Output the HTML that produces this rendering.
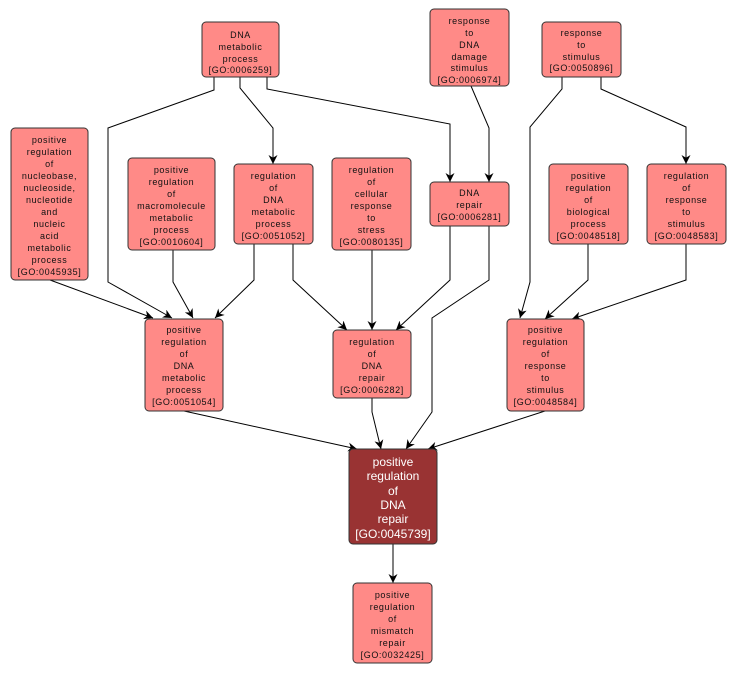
<!DOCTYPE html>
<html><head><meta charset="utf-8"><style>
html,body{margin:0;padding:0;background:#fff;}
svg{display:block;}
.n rect{fill:#ff8a87;stroke:#333;stroke-width:1;}
.n text{font-family:"Liberation Sans",sans-serif;font-size:9px;fill:#111;text-anchor:middle;letter-spacing:0.6px;}
.m rect{fill:#993333;stroke:#333;stroke-width:1;}
.m text{font-family:"Liberation Sans",sans-serif;font-size:12px;fill:#fff;text-anchor:middle;}
path.e{fill:none;stroke:#000;stroke-width:1;}
</style></head><body>
<svg width="738" height="673" viewBox="0 0 738 673" xmlns="http://www.w3.org/2000/svg">
<defs>
<marker id="a" viewBox="0 0 10 10" refX="10" refY="5" markerWidth="9" markerHeight="9" orient="auto" markerUnits="userSpaceOnUse">
<path d="M0,0 L10,5 L0,10 L3,5 Z" fill="#000"/>
</marker>
</defs>
<!-- edges -->
<path class="e" marker-end="url(#a)" d="M214,77 L214,90 L108,128 L108,282 L172,318"/>
<path class="e" marker-end="url(#a)" d="M240,77 L240,88 L273,128 L273,164"/>
<path class="e" marker-end="url(#a)" d="M267,77 L267,89 L450,124 L450,182"/>
<path class="e" marker-end="url(#a)" d="M471,86 L489,128 L489,182"/>
<path class="e" marker-end="url(#a)" d="M562,77 L562,89 L530,127 L530,282 L520,318"/>
<path class="e" marker-end="url(#a)" d="M601,77 L601,89 L686,127 L686,164"/>
<path class="e" marker-end="url(#a)" d="M50,280 L153,318"/>
<path class="e" marker-end="url(#a)" d="M173,250 L173,282 L193,318"/>
<path class="e" marker-end="url(#a)" d="M254,244 L254,280 L215,318"/>
<path class="e" marker-end="url(#a)" d="M293,244 L293,280 L347,330"/>
<path class="e" marker-end="url(#a)" d="M372,250 L372,330"/>
<path class="e" marker-end="url(#a)" d="M450,226 L450,280 L396,330"/>
<path class="e" marker-end="url(#a)" d="M489,226 L489,280 L432,318 L432,412 L406,449"/>
<path class="e" marker-end="url(#a)" d="M588,244 L588,280 L545,319"/>
<path class="e" marker-end="url(#a)" d="M686,244 L686,280 L572,319"/>
<path class="e" marker-end="url(#a)" d="M184,411 L357,449"/>
<path class="e" marker-end="url(#a)" d="M372,398 L372,412 L381,449"/>
<path class="e" marker-end="url(#a)" d="M545,411 L428,449"/>
<path class="e" marker-end="url(#a)" d="M393,544 L393,583"/>
<!-- nodes -->
<g class="n"><rect x="202" y="22" width="77" height="55" rx="4"/>
<text x="240.5" y="38">DNA</text><text x="240.5" y="50">metabolic</text><text x="240.5" y="62">process</text><text x="240.5" y="73">[GO:0006259]</text></g>
<g class="n"><rect x="430" y="9" width="79" height="77" rx="4"/>
<text x="469.5" y="24">response</text><text x="469.5" y="36">to</text><text x="469.5" y="48">DNA</text><text x="469.5" y="60">damage</text><text x="469.5" y="71">stimulus</text><text x="469.5" y="83">[GO:0006974]</text></g>
<g class="n"><rect x="542" y="22" width="79" height="55" rx="4"/>
<text x="581.5" y="36">response</text><text x="581.5" y="48">to</text><text x="581.5" y="60">stimulus</text><text x="581.5" y="71">[GO:0050896]</text></g>
<g class="n"><rect x="11" y="128" width="77" height="152" rx="4"/>
<text x="49.5" y="143">positive</text><text x="49.5" y="155">regulation</text><text x="49.5" y="167">of</text><text x="49.5" y="179">nucleobase,</text><text x="49.5" y="191">nucleoside,</text><text x="49.5" y="203">nucleotide</text><text x="49.5" y="215">and</text><text x="49.5" y="227">nucleic</text><text x="49.5" y="239">acid</text><text x="49.5" y="251">metabolic</text><text x="49.5" y="263">process</text><text x="49.5" y="275">[GO:0045935]</text></g>
<g class="n"><rect x="128" y="158" width="87" height="92" rx="4"/>
<text x="171.5" y="173">positive</text><text x="171.5" y="185">regulation</text><text x="171.5" y="197">of</text><text x="171.5" y="209">macromolecule</text><text x="171.5" y="221">metabolic</text><text x="171.5" y="233">process</text><text x="171.5" y="245">[GO:0010604]</text></g>
<g class="n"><rect x="234" y="164" width="79" height="80" rx="4"/>
<text x="273.5" y="179">regulation</text><text x="273.5" y="191">of</text><text x="273.5" y="203">DNA</text><text x="273.5" y="215">metabolic</text><text x="273.5" y="227">process</text><text x="273.5" y="239">[GO:0051052]</text></g>
<g class="n"><rect x="332" y="158" width="79" height="92" rx="4"/>
<text x="371.5" y="173">regulation</text><text x="371.5" y="185">of</text><text x="371.5" y="197">cellular</text><text x="371.5" y="209">response</text><text x="371.5" y="221">to</text><text x="371.5" y="233">stress</text><text x="371.5" y="245">[GO:0080135]</text></g>
<g class="n"><rect x="430" y="182" width="79" height="44" rx="4"/>
<text x="469.5" y="196">DNA</text><text x="469.5" y="208">repair</text><text x="469.5" y="220">[GO:0006281]</text></g>
<g class="n"><rect x="549" y="164" width="79" height="80" rx="4"/>
<text x="588.5" y="179">positive</text><text x="588.5" y="191">regulation</text><text x="588.5" y="203">of</text><text x="588.5" y="215">biological</text><text x="588.5" y="227">process</text><text x="588.5" y="239">[GO:0048518]</text></g>
<g class="n"><rect x="647" y="164" width="79" height="80" rx="4"/>
<text x="686.5" y="179">regulation</text><text x="686.5" y="191">of</text><text x="686.5" y="203">response</text><text x="686.5" y="215">to</text><text x="686.5" y="227">stimulus</text><text x="686.5" y="239">[GO:0048583]</text></g>
<g class="n"><rect x="145" y="319" width="78" height="92" rx="4"/>
<text x="184" y="333">positive</text><text x="184" y="345">regulation</text><text x="184" y="357">of</text><text x="184" y="369">DNA</text><text x="184" y="381">metabolic</text><text x="184" y="393">process</text><text x="184" y="405">[GO:0051054]</text></g>
<g class="n"><rect x="333" y="330" width="78" height="68" rx="4"/>
<text x="372" y="345">regulation</text><text x="372" y="357">of</text><text x="372" y="369">DNA</text><text x="372" y="381">repair</text><text x="372" y="393">[GO:0006282]</text></g>
<g class="n"><rect x="507" y="319" width="77" height="92" rx="4"/>
<text x="545.5" y="333">positive</text><text x="545.5" y="345">regulation</text><text x="545.5" y="357">of</text><text x="545.5" y="369">response</text><text x="545.5" y="381">to</text><text x="545.5" y="393">stimulus</text><text x="545.5" y="405">[GO:0048584]</text></g>
<g class="m"><rect x="349" y="449" width="88" height="95" rx="4"/>
<text x="393" y="466">positive</text><text x="393" y="480">regulation</text><text x="393" y="495">of</text><text x="393" y="509">DNA</text><text x="393" y="523">repair</text><text x="393" y="538">[GO:0045739]</text></g>
<g class="n"><rect x="353" y="583" width="79" height="80" rx="4"/>
<text x="392.5" y="598">positive</text><text x="392.5" y="610">regulation</text><text x="392.5" y="622">of</text><text x="392.5" y="634">mismatch</text><text x="392.5" y="646">repair</text><text x="392.5" y="658">[GO:0032425]</text></g>
</svg>
</body></html>
